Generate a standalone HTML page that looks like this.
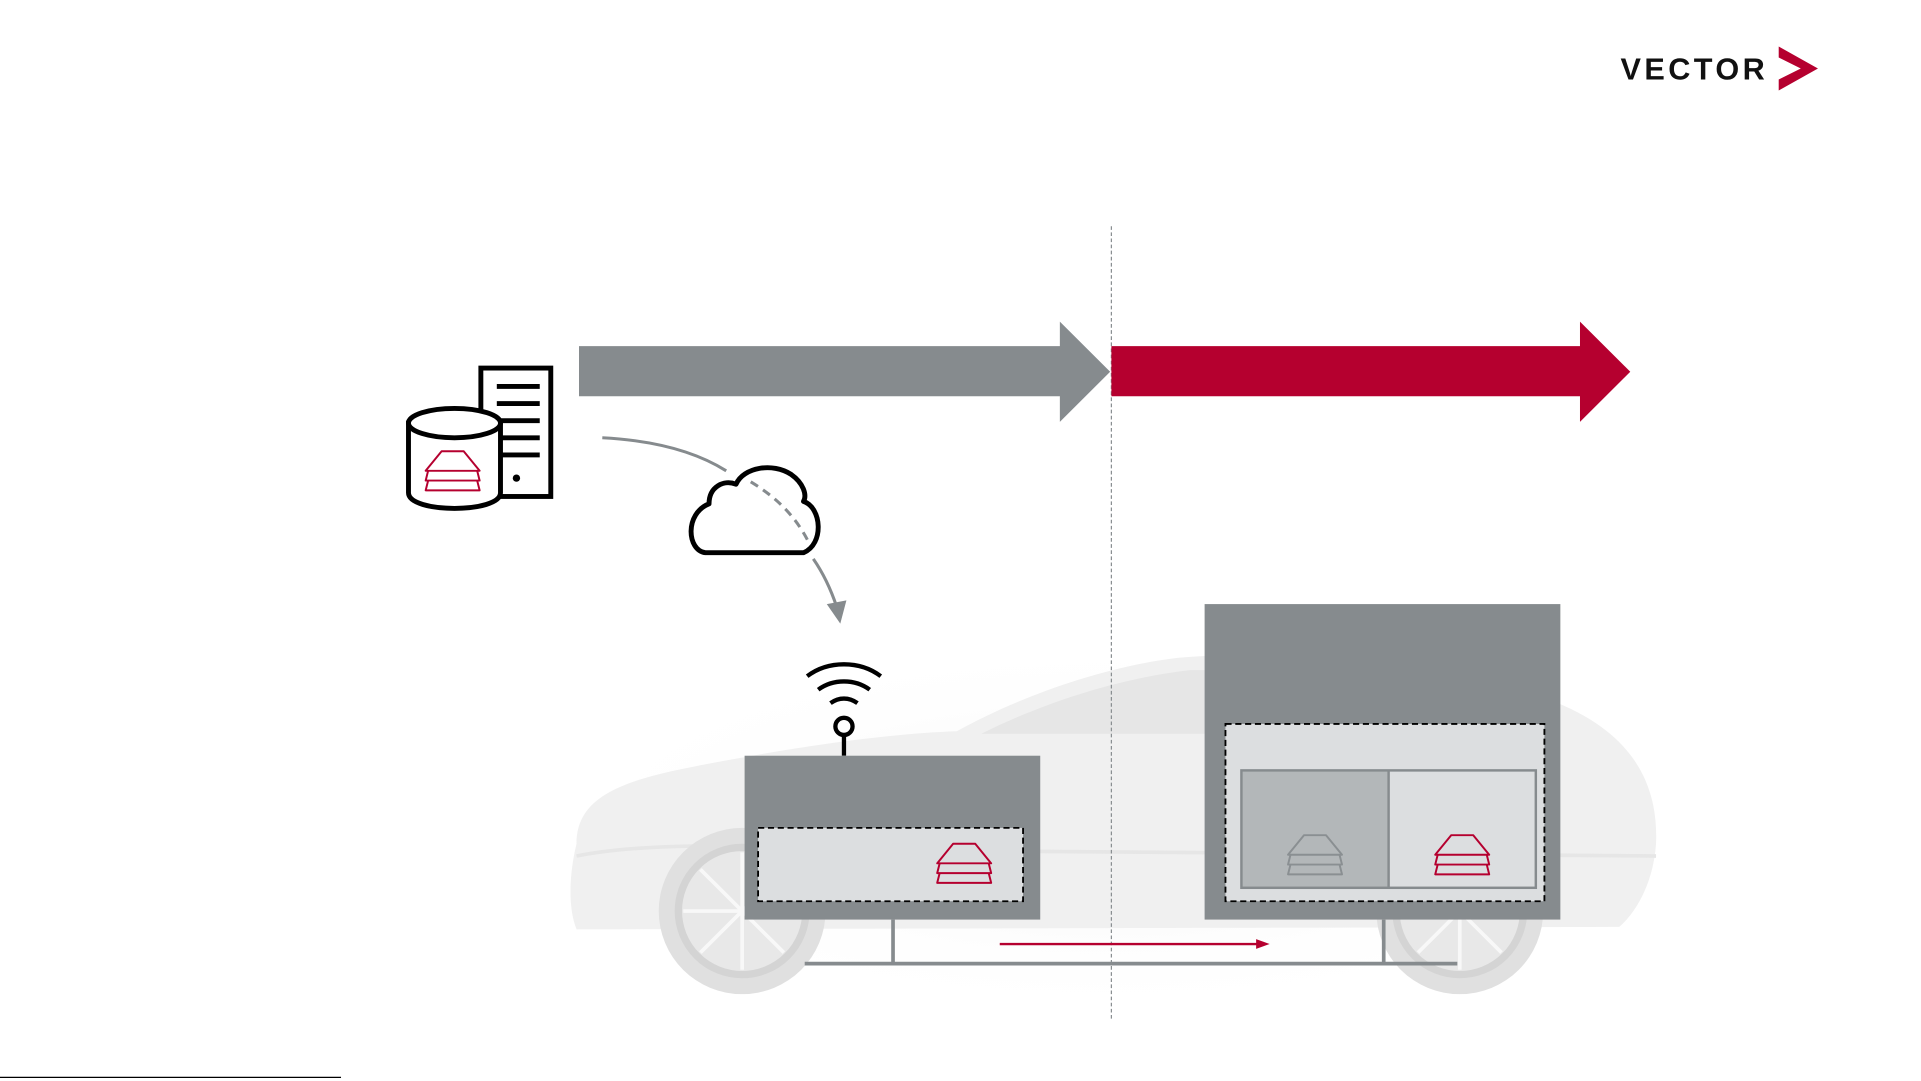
<!DOCTYPE html>
<html><head><meta charset="utf-8"><style>
html,body{margin:0;padding:0;background:#fff;width:1921px;height:1081px;overflow:hidden}
svg{display:block}
</style></head><body>
<svg width="1921" height="1081" viewBox="0 0 1566 884" preserveAspectRatio="none" xmlns="http://www.w3.org/2000/svg">
<defs>
<g id="layers" fill="none" stroke-width="1.6" stroke-linejoin="round">
<path d="M-9,-17 L9,-17 L22,-1 L-22,-1 Z"/>
<path d="M-20,-1 L-22,7 L22,7 L20,-1"/>
<path d="M-20,7 L-22,15 L22,15 L20,7"/>
</g>
<radialGradient id="shadow" cx="0.5" cy="0.5" r="0.5">
<stop offset="0" stop-color="#e6e6e6"/><stop offset="1" stop-color="#fff" stop-opacity="0"/>
</radialGradient>
</defs>

<text x="1321" y="65" font-family="Liberation Sans, sans-serif" font-weight="bold" font-size="25" letter-spacing="2.8" fill="#111">VECTOR</text>
<polygon points="1450,38 1482,56 1450,74 1450,65 1468,56 1450,47" fill="#b5002f"/>

<rect x="433" y="520" width="942" height="315" fill="url(#shadow)" opacity="0.5"/>
<path d="M470,690 C470,655 500,640 560,628 C640,612 720,600 780,598 C830,570 900,545 960,538 C1050,530 1180,540 1270,575 C1330,600 1352,640 1350,690 C1348,720 1335,745 1320,758 L470,760 C462,740 465,710 470,690 Z" fill="#f0f0f0"/>
<path d="M800,600 C850,575 910,555 970,548 L985,548 L985,600 Z" fill="#e6e6e6"/>
<path d="M470,700 C520,690 600,690 680,695 L1350,700" fill="none" stroke="#e6e6e6" stroke-width="3"/>
<circle cx="605" cy="745" r="68" fill="#e0e0e0"/>
<circle cx="605" cy="745" r="52" fill="#e8e8e8" stroke="#d4d4d4" stroke-width="6"/>
<circle cx="1190" cy="745" r="68" fill="#e0e0e0"/>
<circle cx="1190" cy="745" r="52" fill="#e8e8e8" stroke="#d4d4d4" stroke-width="6"/>
<g stroke="#f8f8f8" stroke-width="3">
<line x1="605" y1="697" x2="605" y2="793"/><line x1="557" y1="745" x2="653" y2="745"/><line x1="571" y1="711" x2="639" y2="779"/><line x1="639" y1="711" x2="571" y2="779"/>
<line x1="1190" y1="697" x2="1190" y2="793"/><line x1="1142" y1="745" x2="1238" y2="745"/><line x1="1156" y1="711" x2="1224" y2="779"/><line x1="1224" y1="711" x2="1156" y2="779"/>
</g>

<line x1="906" y1="185" x2="906" y2="833" stroke="#8a8f92" stroke-width="1" stroke-dasharray="3,2"/>

<polygon points="472,283 864,283 864,263 905,304 864,345 864,324 472,324" fill="#868b8e"/>
<polygon points="906,283 1288,283 1288,263 1329,304 1288,345 1288,324 906,324" fill="#b5002f"/>

<rect x="392" y="301" width="57" height="105" fill="#fff" stroke="#000" stroke-width="4"/>
<g stroke="#000" stroke-width="4">
<line x1="405" y1="316" x2="440" y2="316"/><line x1="405" y1="330" x2="440" y2="330"/><line x1="405" y1="344" x2="440" y2="344"/><line x1="405" y1="358" x2="440" y2="358"/><line x1="405" y1="372" x2="440" y2="372"/>
</g>
<circle cx="421" cy="391" r="3" fill="#000"/>
<path d="M333,346 L333,403 C333,420 408,420 408,403 L408,346 Z" fill="#fff" stroke="#000" stroke-width="4"/>
<ellipse cx="370.5" cy="346" rx="37.5" ry="12" fill="#fff" stroke="#000" stroke-width="4"/>
<use href="#layers" stroke="#b5002f" transform="translate(369,386)"/>

<path d="M491,358 C530,360 565,368 592,385" fill="none" stroke="#868b8e" stroke-width="2.5"/>
<path d="M575,452 C560,450 558,420 578,412 C578,398 590,392 600,396 C606,382 630,378 645,388 C655,395 658,405 655,410 C670,415 672,445 655,452 Z" fill="#fff" stroke="#000" stroke-width="4" stroke-linejoin="round"/>
<path d="M612,394 C630,405 648,420 660,445" fill="none" stroke="#868b8e" stroke-width="2.5" stroke-dasharray="7,5"/>
<path d="M663,457 C672,470 678,484 682,496" fill="none" stroke="#868b8e" stroke-width="2.5"/>
<polygon points="674,494 690,491 685,510" fill="#868b8e"/>

<g fill="none" stroke="#000" stroke-width="3.5">
<path d="M658,553 C675,540 701,540 718,553"/>
<path d="M667,564 C679,555 697,555 709,564"/>
<path d="M677,575 C684,570 692,570 699,575"/>
<circle cx="688" cy="594" r="7"/>
<line x1="688" y1="601" x2="688" y2="618"/>
</g>

<rect x="607" y="618" width="241" height="134" fill="#868b8e"/>
<rect x="618" y="677" width="216" height="60" fill="#dcdee0" stroke="#000" stroke-width="1.5" stroke-dasharray="5,3"/>
<use href="#layers" stroke="#b5002f" transform="translate(786,707)"/>

<rect x="982" y="494" width="290" height="258" fill="#868b8e"/>
<rect x="999" y="592" width="260" height="145" fill="#dcdee0" stroke="#000" stroke-width="1.5" stroke-dasharray="5,3"/>
<rect x="1012" y="630" width="120" height="96" fill="#b3b7b9"/>
<rect x="1012" y="630" width="240" height="96" fill="none" stroke="#868b8e" stroke-width="2"/>
<line x1="1132" y1="630" x2="1132" y2="726" stroke="#868b8e" stroke-width="2"/>
<use href="#layers" stroke="#8a8f92" transform="translate(1072,700)"/>
<use href="#layers" stroke="#b5002f" transform="translate(1192,700)"/>

<g stroke="#868b8e" stroke-width="3">
<line x1="656" y1="788" x2="1188" y2="788"/>
<line x1="728" y1="752" x2="728" y2="788"/>
<line x1="1128" y1="752" x2="1128" y2="788"/>
</g>
<line x1="815" y1="772" x2="1026" y2="772" stroke="#b5002f" stroke-width="2"/>
<polygon points="1024,768 1035,772 1024,776" fill="#b5002f"/>

<line x1="0" y1="881" x2="278" y2="881" stroke="#000" stroke-width="1"/>
</svg>
</body></html>
